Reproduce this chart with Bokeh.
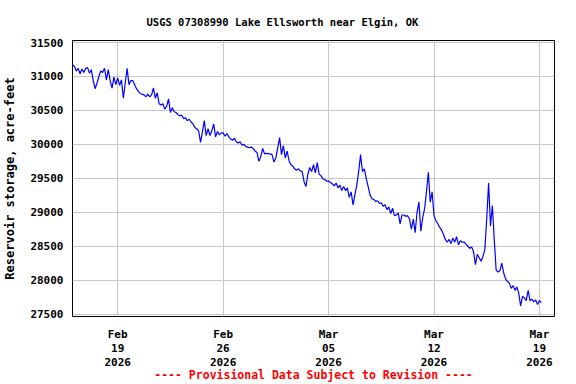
import datetime as dt
from bokeh.plotting import figure
from bokeh.models import FixedTicker, DatetimeTickFormatter, Range1d
from bokeh.embed import file_html
from bokeh.resources import INLINE

# ---- data: reservoir storage (acre-feet), one value every 3 hours from Feb 16 2026 00:00
start = dt.datetime(2026, 2, 16, 0, 0)
step_hours = 3

week1 = [31170, 31150, 31080, 31120, 31040, 31110, 31060, 31120,
         31130, 31050, 31100, 30940, 30820, 30900, 31000, 31080,
         31060, 31120, 30950, 31100, 30940, 30830, 30990, 30880,
         30980, 30870, 30950, 30680, 30900, 31120, 30880, 30940,
         30940, 30880, 30820, 30780, 30750, 30740, 30730, 30700,
         30740, 30700, 30730, 30830, 30680, 30760, 30600, 30580,
         30600, 30520, 30560, 30670, 30470, 30540, 30480, 30470]
week2 = [30440, 30420, 30430, 30380, 30390, 30350, 30370, 30330,
         30300, 30250, 30230, 30200, 30030, 30180, 30350, 30130,
         30230, 30130, 30200, 30300, 30110, 30190, 30140, 30170,
         30170, 30120, 30160, 30110, 30080, 30060, 30090, 30040,
         30020, 30040, 29990, 30000, 29970, 29960, 29950, 29960,
         29940, 29900, 29880, 29750, 29820, 29940, 29860, 29870,
         29860, 29860, 29850, 29740, 29800, 29950, 30100, 29850]
week3 = [29980, 29800, 29900, 29760, 29700, 29680, 29640, 29620,
         29640, 29610, 29600, 29450, 29380, 29560, 29660, 29600,
         29700, 29580, 29730, 29560, 29540, 29490, 29480, 29460,
         29460, 29440, 29420, 29390, 29430, 29360, 29400, 29320,
         29380, 29320, 29360, 29220, 29300, 29110, 29260, 29400,
         29600, 29850, 29600, 29640, 29500, 29380, 29260, 29200,
         29190, 29160, 29170, 29130, 29140, 29090, 29110, 29040]
week4 = [29080, 28980, 29060, 28950, 28960, 28990, 28830, 28960,
         28960, 28940, 28950, 28900, 28750, 28900, 28700, 29000,
         29150, 28720, 28920, 29050, 29300, 29590, 29150, 29300,
         28950, 28880, 28830, 28780, 28740, 28680, 28600, 28560,
         28600, 28540, 28620, 28560, 28640, 28520, 28580, 28560,
         28560, 28530, 28500, 28470, 28490, 28420, 28230, 28380,
         28330, 28280, 28350, 28450, 28900, 29430, 28800, 29100]
week5 = [28600, 28150, 28120, 28140, 28250, 28110, 28020, 27980,
         27960, 27880, 27920, 27850, 27900, 27810, 27620, 27760,
         27740, 27700, 27850, 27700, 27720, 27680, 27710, 27640,
         27700, 27670]

storage = week1 + week2 + week3 + week4 + week5
times = [start + dt.timedelta(hours=step_hours * i) for i in range(len(storage))]

tick_dates = [dt.datetime(2026, 2, 19), dt.datetime(2026, 2, 26), dt.datetime(2026, 3, 5),
              dt.datetime(2026, 3, 12), dt.datetime(2026, 3, 19)]
y_ticks = [27500, 28000, 28500, 29000, 29500, 30000, 30500, 31000, 31500]

title_text = "USGS 07308990 Lake Ellsworth near Elgin, OK"
y_label = "Reservoir storage, acre-feet"
footer = "---- Provisional Data Subject to Revision ----"

EPOCH = dt.datetime(1970, 1, 1)
def ms(d):
    return (d - EPOCH).total_seconds() * 1000.0

x_start = ms(dt.datetime(2026, 2, 16))
x_end = ms(dt.datetime(2026, 3, 20))

FONT = "DejaVu Sans Mono"

p = figure(width=576, height=384, x_axis_type="datetime",
           output_backend="svg", toolbar_location=None,
           x_range=Range1d(x_start, x_end), y_range=Range1d(27465, 31530),
           min_border_left=72, min_border_right=22, min_border_top=40, min_border_bottom=68)

p.title.text = title_text
p.title.align = "left"
p.title.offset = 74
p.title.text_font = FONT
p.title.text_font_style = "bold"
p.title.text_font_size = "10.5px"
p.title.text_color = "black"
p.title.standoff = 26

p.line(times, storage, line_color="#0000FF", line_width=1.2)

fmt = "%b\n%d\n%Y"
p.xaxis.ticker = FixedTicker(ticks=[ms(d) for d in tick_dates])
p.xaxis.formatter = DatetimeTickFormatter(milliseconds=fmt, seconds=fmt, minsec=fmt, minutes=fmt,
                                          hourmin=fmt, hours=fmt, days=fmt, months=fmt, years=fmt)
p.yaxis.ticker = FixedTicker(ticks=y_ticks)

for ax in (p.xaxis, p.yaxis):
    ax.major_tick_out = 0
    ax.major_tick_in = 0
    ax.minor_tick_line_color = None
    ax.axis_line_color = None
    ax.major_label_text_font = FONT
    ax.major_label_text_font_style = "bold"
    ax.major_label_text_font_size = "11px"
    ax.major_label_text_color = "black"

p.xaxis.major_label_standoff = 11
p.xaxis.major_label_text_line_height = 1.085
p.xaxis.axis_label = footer
p.xaxis.axis_label_text_color = "#FF0000"
p.xaxis.axis_label_text_font = FONT
p.xaxis.axis_label_text_font_style = "bold"
p.xaxis.axis_label_text_font_size = "11.5px"
p.xaxis.axis_label_standoff = -4
p.xaxis.axis_label_text_line_height = 1.0

p.yaxis.major_label_standoff = 9
p.yaxis.axis_label = y_label
p.yaxis.axis_label_text_font = FONT
p.yaxis.axis_label_text_font_style = "bold"
p.yaxis.axis_label_text_font_size = "12px"
p.yaxis.axis_label_text_color = "black"
p.yaxis.axis_label_standoff = 10

p.grid.grid_line_color = "#c8c8c8"
p.grid.grid_line_width = 1
p.outline_line_color = "black"
p.outline_line_width = 1
p.outline_line_alpha = 1
p.background_fill_color = "white"
p.border_fill_color = "white"

open("out.html", "w").write(file_html(p, INLINE))
